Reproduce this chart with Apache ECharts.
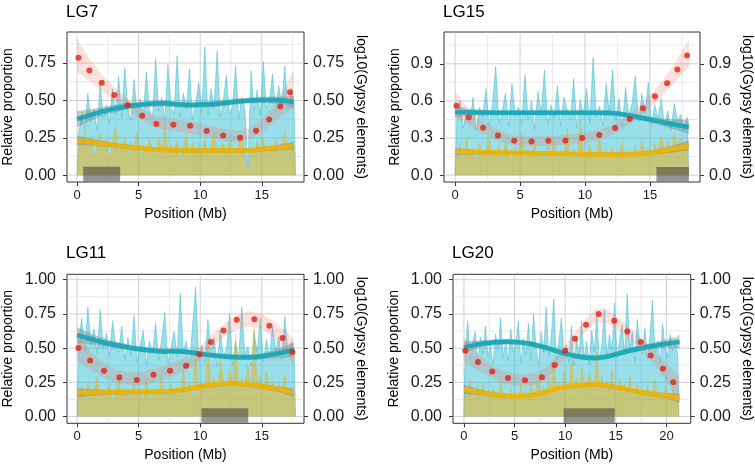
<!DOCTYPE html>
<html><head><meta charset="utf-8">
<script src="https://cdn.jsdelivr.net/npm/echarts@6/dist/echarts.min.js"></script>
<style>html,body{margin:0;padding:0;background:#fff}#c{width:755px;height:469px}</style>
</head><body><div id="c"></div>
<script>
const FONT = "'Liberation Sans', Arial, Helvetica, sans-serif";
const BIN = 0.25;

// ---------- LG7 ----------
const xTicks7 = [0, 5, 10, 15];
const yTicks7 = [0, 0.25, 0.5, 0.75];
const cyanBars7 = [0.28,0.42,0.31,0.55,0.36,0.44,0.30,0.62, 0.38,0.47,0.35,0.58,0.41,0.66,0.39,0.72,
  0.45,0.37,0.64,0.42,0.51,0.40,0.69,0.44, 0.38,0.78,0.43,0.52,0.36,0.74,0.46,0.41,
  0.80,0.39,0.55,0.44,0.71,0.37,0.48,0.62, 0.42,0.86,0.40,0.58,0.45,0.83,0.39,0.50,
  0.67,0.41,0.46,0.73,0.38,0.52,0.44,0.05, 0.70,0.43,0.57,0.40,0.76,0.45,0.50,0.68,
  0.42,0.60,0.47,0.73,0.44,0.58,0.48];
const goldBars7 = [0.22,0.18,0.30,0.15,0.26,0.12,0.20,0.28, 0.16,0.24,0.10,0.21,0.33,0.14,0.19,0.25,
  0.13,0.22,0.17,0.29,0.11,0.20,0.15,0.24, 0.18,0.12,0.26,0.16,0.35,0.14,0.21,0.17,
  0.23,0.10,0.19,0.28,0.15,0.22,0.12,0.20, 0.16,0.25,0.13,0.19,0.30,0.11,0.18,0.22,
  0.14,0.24,0.17,0.12,0.21,0.27,0.15,0.00, 0.19,0.13,0.23,0.16,0.26,0.12,0.20,0.18,
  0.24,0.15,0.21,0.29,0.17,0.22,0.19];
const fitX7 = [0,1,2,3,4,5,6,7,8,9,10,11,12,13,14,15,16,17,17.6];
const cyanFit7 = [0.375,0.40,0.425,0.445,0.46,0.47,0.478,0.481,0.475,0.47,0.472,0.475,0.483,0.493,0.50,0.503,0.503,0.497,0.49];
const cyanLo7 = [0.32,0.36,0.395,0.42,0.438,0.45,0.458,0.461,0.455,0.45,0.452,0.455,0.463,0.473,0.48,0.482,0.48,0.467,0.45];
const cyanHi7 = [0.43,0.44,0.455,0.47,0.482,0.49,0.498,0.501,0.495,0.49,0.492,0.495,0.503,0.513,0.52,0.524,0.526,0.527,0.53];
const goldFit7 = [0.232,0.222,0.211,0.2,0.19,0.181,0.174,0.169,0.166,0.165,0.165,0.165,0.165,0.165,0.167,0.173,0.181,0.19,0.196];
const goldLo7 = [0.20,0.198,0.192,0.183,0.174,0.166,0.159,0.154,0.151,0.15,0.15,0.15,0.15,0.15,0.152,0.157,0.164,0.168,0.168];
const goldHi7 = [0.264,0.246,0.23,0.217,0.206,0.196,0.189,0.184,0.181,0.18,0.18,0.18,0.18,0.18,0.182,0.189,0.198,0.212,0.224];
const pinkLo7 = [0.69,0.63,0.565,0.50,0.438,0.38,0.33,0.305,0.295,0.28,0.265,0.245,0.228,0.218,0.235,0.285,0.355,0.42,0.46];
const pinkHi7 = [0.91,0.78,0.675,0.59,0.518,0.46,0.41,0.385,0.375,0.36,0.345,0.325,0.308,0.298,0.315,0.375,0.465,0.60,0.70];
const ptX7 = [0.11,1.0,2.0,3.03,4.1,5.28,6.44,7.82,9.18,10.53,11.86,13.24,14.54,15.6,16.5,17.3];
const ptY7 = [0.786,0.70,0.618,0.537,0.47,0.398,0.343,0.338,0.33,0.296,0.265,0.25,0.297,0.372,0.46,0.555];
const cen7 = [0.5, 3.5, 0.056];

// ---------- LG15 ----------
const xTicks15 = [0, 5, 10, 15];
const yTicks15 = [0, 0.3, 0.6, 0.9];
const cyanBars15 = [0.45,0.60,0.38,0.52,0.41,0.63,0.36,0.55, 0.47,0.70,0.40,0.58,0.88,0.43,0.52,0.66,
  0.39,0.74,0.48,0.55,0.42,0.81,0.45,0.60, 0.37,0.68,0.50,0.85,0.41,0.57,0.46,0.72,
  0.40,0.63,0.53,0.44,0.78,0.38,0.61,0.49, 0.70,0.42,0.95,0.47,0.56,0.40,0.74,0.51,
  0.85,0.44,0.62,0.39,0.71,0.48,0.58,0.80, 0.43,0.66,0.50,0.75,0.41,0.57,0.46,0.62,
  0.40,0.52,0.37,0.58,0.44,0.49,0.36,0.47];
const goldBars15 = [0.18,0.25,0.12,0.30,0.16,0.22,0.10,0.27, 0.14,0.20,0.32,0.13,0.19,0.24,0.11,0.28,
  0.17,0.12,0.23,0.15,0.34,0.10,0.21,0.16, 0.26,0.13,0.19,0.11,0.24,0.17,0.29,0.12,
  0.20,0.15,0.38,0.13,0.22,0.10,0.45,0.16, 0.14,0.25,0.12,0.19,0.31,0.11,0.21,0.15,
  0.23,0.13,0.18,0.27,0.12,0.20,0.16,0.24, 0.14,0.29,0.17,0.22,0.12,0.26,0.19,0.33,
  0.21,0.28,0.18,0.35,0.24,0.30,0.22,0.27];
const fitX15 = [0,1,2,3,4,5,6,7,8,9,10,11,12,13,14,15,16,17,18];
const cyanFit15 = [0.51,0.508,0.506,0.505,0.505,0.505,0.505,0.505,0.505,0.505,0.505,0.505,0.502,0.49,0.47,0.45,0.428,0.408,0.39];
const cyanLo15 = [0.465,0.478,0.484,0.485,0.485,0.485,0.485,0.485,0.485,0.485,0.485,0.485,0.482,0.47,0.448,0.425,0.398,0.368,0.33];
const cyanHi15 = [0.555,0.538,0.528,0.525,0.525,0.525,0.525,0.525,0.525,0.525,0.525,0.525,0.522,0.51,0.492,0.475,0.458,0.448,0.45];
const goldFit15 = [0.19,0.188,0.186,0.184,0.182,0.18,0.178,0.176,0.174,0.172,0.17,0.168,0.167,0.168,0.172,0.18,0.195,0.215,0.24];
const goldLo15 = [0.16,0.166,0.168,0.168,0.167,0.165,0.163,0.161,0.159,0.157,0.155,0.153,0.152,0.153,0.156,0.162,0.173,0.185,0.2];
const goldHi15 = [0.22,0.21,0.204,0.2,0.197,0.195,0.193,0.191,0.189,0.187,0.185,0.183,0.182,0.183,0.188,0.198,0.217,0.245,0.28];
const pinkLo15 = [0.47,0.405,0.345,0.29,0.255,0.235,0.232,0.235,0.24,0.248,0.263,0.285,0.322,0.38,0.455,0.545,0.645,0.76,0.875];
const pinkHi15 = [0.67,0.545,0.445,0.38,0.335,0.315,0.312,0.315,0.32,0.328,0.343,0.365,0.402,0.46,0.545,0.645,0.765,0.92,1.095];
const ptX15 = [0.1,1.05,2.15,3.3,4.55,5.88,7.18,8.49,9.79,11.1,12.32,13.45,14.47,15.39,16.33,17.12,17.87];
const ptY15 = [0.562,0.467,0.384,0.321,0.278,0.272,0.278,0.281,0.30,0.324,0.381,0.454,0.54,0.637,0.743,0.854,0.968];
const cen15 = [15.5, 18.0, 0.067];

// ---------- LG11 ----------
const xTicks11 = [0, 5, 10, 15];
const yTicks11 = [0, 0.25, 0.5, 0.75, 1];
const cyanBars11 = [0.55,0.72,0.48,0.80,0.52,0.64,0.46,0.78, 0.50,0.61,0.44,0.70,0.53,0.47,0.66,0.42,
  0.58,0.45,0.74,0.40,0.52,0.63,0.38,0.55, 0.47,0.68,0.41,0.57,0.76,0.39,0.50,0.62,
  0.44,0.90,0.48,0.55,0.37,0.66,0.95,0.42, 0.52,0.40,0.71,0.46,0.58,0.36,0.63,0.44,
  0.49,0.75,0.38,0.55,0.42,0.80,0.45,0.51, 0.37,0.62,0.47,0.72,0.40,0.56,0.44,0.66,
  0.48,0.58,0.41,0.73,0.46,0.54,0.50];
const goldBars11 = [0.15,0.22,0.11,0.26,0.14,0.19,0.30,0.12, 0.20,0.16,0.24,0.10,0.18,0.28,0.13,0.21,
  0.17,0.12,0.25,0.15,0.20,0.11,0.27,0.16, 0.13,0.22,0.18,0.30,0.12,0.19,0.24,0.15,
  0.21,0.14,0.35,0.17,0.26,0.12,0.48,0.20, 0.25,0.18,0.55,0.22,0.30,0.16,0.42,0.27,
  0.20,0.34,0.24,0.60,0.19,0.28,0.23,0.38, 0.18,0.66,0.22,0.29,0.17,0.33,0.21,0.26,
  0.15,0.24,0.19,0.31,0.14,0.22,0.17];
const fitX11 = [0,1,2,3,4,5,6,7,8,9,10,11,12,13,14,15,16,17,17.6];
const cyanFit11 = [0.595,0.57,0.545,0.525,0.508,0.493,0.482,0.476,0.478,0.472,0.458,0.447,0.438,0.433,0.433,0.44,0.455,0.475,0.49];
const cyanLo11 = [0.535,0.53,0.515,0.5,0.486,0.473,0.462,0.456,0.458,0.452,0.438,0.427,0.418,0.413,0.413,0.418,0.425,0.43,0.435];
const cyanHi11 = [0.655,0.61,0.575,0.55,0.53,0.513,0.502,0.496,0.498,0.492,0.478,0.467,0.458,0.453,0.453,0.462,0.485,0.52,0.545];
const goldFit11 = [0.175,0.176,0.177,0.178,0.179,0.18,0.18,0.181,0.188,0.202,0.218,0.232,0.24,0.24,0.233,0.222,0.206,0.188,0.175];
const goldLo11 = [0.14,0.15,0.156,0.16,0.162,0.164,0.164,0.165,0.172,0.186,0.202,0.216,0.224,0.224,0.216,0.204,0.186,0.163,0.145];
const goldHi11 = [0.21,0.202,0.198,0.196,0.196,0.196,0.196,0.197,0.204,0.218,0.234,0.248,0.256,0.256,0.25,0.24,0.226,0.213,0.205];
const pinkLo11 = [0.405,0.345,0.29,0.25,0.23,0.225,0.245,0.27,0.30,0.34,0.41,0.505,0.585,0.635,0.66,0.64,0.575,0.46,0.37];
const pinkHi11 = [0.605,0.485,0.40,0.35,0.33,0.325,0.345,0.37,0.40,0.44,0.51,0.605,0.685,0.745,0.77,0.75,0.695,0.62,0.57];
const ptX11 = [0.11,1.06,2.19,3.44,4.85,6.2,7.55,8.85,9.94,10.86,11.89,12.97,14.4,15.62,16.68,17.49];
const ptY11 = [0.50,0.41,0.334,0.285,0.268,0.305,0.334,0.371,0.456,0.544,0.629,0.707,0.71,0.663,0.573,0.471];
const cen11 = [10.1, 13.9, 0.061];

// ---------- LG20 ----------
const xTicks20 = [0, 5, 10, 15, 20];
const yTicks20 = [0, 0.25, 0.5, 0.75, 1];
const cyanBars20 = [0.48,0.70,0.42,0.55,0.62,0.40,0.58,0.46, 0.66,0.44,0.52,0.38,0.60,0.49,0.72,0.43,
  0.55,0.41,0.64,0.47,0.53,0.70,0.39,0.57, 0.45,0.68,0.42,0.75,0.50,0.38,0.62,0.47,
  0.80,0.44,0.58,0.86,0.41,0.55,0.72,0.46, 0.52,0.40,0.66,0.37,0.58,0.45,0.70,0.42,
  0.55,0.38,0.63,0.47,0.74,0.41,0.52,0.78, 0.44,0.60,0.48,0.83,0.43,0.56,0.67,0.45,
  0.90,0.49,0.62,0.40,0.71,0.53,0.46,0.65, 0.42,0.58,0.85,0.47,0.55,0.39,0.68,0.50,
  0.44,0.60,0.48,0.56,0.45];
const goldBars20 = [0.20,0.14,0.27,0.12,0.18,0.23,0.10,0.25, 0.15,0.19,0.11,0.22,0.13,0.17,0.28,0.12,
  0.16,0.10,0.21,0.14,0.18,0.11,0.24,0.13, 0.19,0.12,0.26,0.15,0.20,0.31,0.14,0.22,
  0.17,0.28,0.19,0.42,0.21,0.25,0.16,0.33, 0.24,0.18,0.45,0.22,0.29,0.17,0.38,0.25,
  0.20,0.32,0.23,0.27,0.48,0.21,0.30,0.19, 0.26,0.18,0.35,0.22,0.16,0.28,0.20,0.24,
  0.15,0.30,0.19,0.13,0.25,0.17,0.21,0.12, 0.23,0.16,0.19,0.27,0.14,0.18,0.11,0.22,
  0.16,0.13,0.20,0.15,0.12];
const fitX20 = [0,1,2,3,4,5,6,7,8,9,10,11,12,13,14,15,16,17,18,19,20,21,21.3];
const cyanFit20 = [0.505,0.522,0.535,0.542,0.546,0.545,0.538,0.525,0.505,0.482,0.46,0.443,0.432,0.428,0.436,0.455,0.475,0.492,0.508,0.52,0.532,0.542,0.545];
const cyanLo20 = [0.46,0.492,0.51,0.52,0.526,0.525,0.518,0.505,0.485,0.462,0.44,0.423,0.412,0.408,0.416,0.435,0.455,0.472,0.486,0.495,0.502,0.502,0.49];
const cyanHi20 = [0.55,0.552,0.56,0.564,0.566,0.565,0.558,0.545,0.525,0.502,0.48,0.463,0.452,0.448,0.456,0.475,0.495,0.512,0.53,0.545,0.562,0.582,0.60];
const goldFit20 = [0.2,0.185,0.17,0.16,0.152,0.148,0.15,0.16,0.178,0.2,0.215,0.225,0.232,0.234,0.228,0.215,0.2,0.185,0.172,0.16,0.15,0.138,0.135];
const goldLo20 = [0.165,0.16,0.15,0.142,0.136,0.133,0.135,0.145,0.163,0.185,0.2,0.21,0.217,0.219,0.213,0.2,0.185,0.17,0.157,0.142,0.128,0.108,0.1];
const goldHi20 = [0.235,0.21,0.19,0.178,0.168,0.163,0.165,0.175,0.193,0.215,0.23,0.24,0.247,0.249,0.243,0.23,0.215,0.2,0.187,0.178,0.172,0.168,0.17];
const pinkLo20 = [0.40,0.355,0.315,0.273,0.243,0.225,0.22,0.23,0.265,0.335,0.43,0.525,0.62,0.685,0.685,0.645,0.585,0.525,0.45,0.36,0.26,0.14,0.105];
const pinkHi20 = [0.58,0.485,0.415,0.363,0.333,0.315,0.31,0.32,0.355,0.425,0.52,0.615,0.71,0.785,0.785,0.735,0.675,0.615,0.54,0.46,0.38,0.32,0.305];
const ptX20 = [0.13,1.38,2.8,4.35,6.03,7.71,8.96,10.01,10.97,12.06,13.31,14.85,16.14,17.46,18.45,19.66,20.68];
const ptY20 = [0.481,0.398,0.329,0.281,0.266,0.288,0.376,0.481,0.568,0.671,0.749,0.70,0.622,0.544,0.446,0.349,0.251];
const cen20 = [9.85, 14.9, 0.061];

// ---------- assemble ----------
const panels = [
  {title:'LG7',  xMin:-0.82, xMax:18.43, yMin:-0.046, yMax:0.958, yDec:2, xTicks:xTicks7, yTicks:yTicks7,
   cyanBars:cyanBars7, goldBars:goldBars7, fitX:fitX7, cyanFit:cyanFit7, cyanLo:cyanLo7, cyanHi:cyanHi7,
   goldFit:goldFit7, goldLo:goldLo7, goldHi:goldHi7, pinkLo:pinkLo7, pinkHi:pinkHi7, ptX:ptX7, ptY:ptY7, cen:cen7},
  {title:'LG15', xMin:-0.86, xMax:18.86, yMin:-0.055, yMax:1.157, yDec:1, xTicks:xTicks15, yTicks:yTicks15,
   cyanBars:cyanBars15, goldBars:goldBars15, fitX:fitX15, cyanFit:cyanFit15, cyanLo:cyanLo15, cyanHi:cyanHi15,
   goldFit:goldFit15, goldLo:goldLo15, goldHi:goldHi15, pinkLo:pinkLo15, pinkHi:pinkHi15, ptX:ptX15, ptY:ptY15, cen:cen15},
  {title:'LG11', xMin:-0.82, xMax:18.43, yMin:-0.049, yMax:1.039, yDec:2, xTicks:xTicks11, yTicks:yTicks11,
   cyanBars:cyanBars11, goldBars:goldBars11, fitX:fitX11, cyanFit:cyanFit11, cyanLo:cyanLo11, cyanHi:cyanHi11,
   goldFit:goldFit11, goldLo:goldLo11, goldHi:goldHi11, pinkLo:pinkLo11, pinkHi:pinkHi11, ptX:ptX11, ptY:ptY11, cen:cen11},
  {title:'LG20', xMin:-1.08, xMax:22.4, yMin:-0.049, yMax:1.039, yDec:2, xTicks:xTicks20, yTicks:yTicks20,
   cyanBars:cyanBars20, goldBars:goldBars20, fitX:fitX20, cyanFit:cyanFit20, cyanLo:cyanLo20, cyanHi:cyanHi20,
   goldFit:goldFit20, goldLo:goldLo20, goldHi:goldHi20, pinkLo:pinkLo20, pinkHi:pinkHi20, ptX:ptX20, ptY:ptY20, cen:cen20}
];

const layout = [
  {left:67,  top:32,    width:237,   height:150, titleTop:4,   gapL:52, gapR:50},
  {left:444, top:32,    width:257,   height:150, titleTop:4,   gapL:42, gapR:40},
  {left:67,  top:274.3, width:237,   height:149, titleTop:245, gapL:52, gapR:50},
  {left:453, top:274.3, width:237.7, height:149, titleTop:245, gapL:52, gapR:49}
];

const COL = {
  cyanFill:'rgba(40,188,208,0.48)', cyanEdge:'rgba(25,172,196,0.55)',
  goldFill:'rgba(236,178,32,0.55)', goldEdge:'rgba(215,170,30,0.45)',
  cyanLine:'#1CA9B9', goldLine:'#EAB40A', grayRib:'rgba(135,135,135,0.45)',
  pinkRib:'rgba(240,125,110,0.24)', point:'#E5200F', cen:'rgba(70,70,70,0.58)',
  major:'#d0d0d0', minor:'#e4e4e4', border:'#333', text:'#1a1a1a'
};

function minors(ticks, lo, hi) {
  const step = ticks[1] - ticks[0], out = [];
  for (let v = ticks[0] - step / 2; v < hi; v += step) if (v > lo) out.push(+v.toFixed(4));
  return out;
}

function ribbon(xs, lo, hi, color) {
  return function (params, api) {
    const pts = [];
    for (let k = 0; k < xs.length; k++) pts.push(api.coord([xs[k], hi[k]]));
    for (let k = xs.length - 1; k >= 0; k--) pts.push(api.coord([xs[k], lo[k]]));
    return {type:'polygon', shape:{points:pts}, style:{fill:color}, silent:true};
  };
}

// spiky density trace: value at each bin centre, closed down to 0 at both ends
function histData(vals) {
  const d = [[0, 0]];
  vals.forEach((v, k) => d.push([(k + 0.5) * BIN, v]));
  d.push([vals.length * BIN, 0]);
  return d;
}

const option = {animation:false, backgroundColor:'#fff', title:[], grid:[], xAxis:[], yAxis:[], series:[]};

panels.forEach((p, i) => {
  const L = layout[i];
  const txt = (size) => ({fontFamily:FONT, fontSize:size, color:COL.text});
  option.title.push({text:p.title, left:L.left - 1, top:L.titleTop, padding:0,
    textStyle:{fontFamily:FONT, fontSize:17, fontWeight:'normal', color:'#000'}});
  option.grid.push({left:L.left, top:L.top, width:L.width, height:L.height, show:true,
    borderColor:COL.border, borderWidth:1, backgroundColor:'transparent', containLabel:false});
  option.xAxis.push({type:'value', gridIndex:i, min:p.xMin, max:p.xMax,
    name:'Position (Mb)', nameLocation:'middle', nameGap:25, nameTextStyle:{fontFamily:FONT, fontSize:14, color:'#000'},
    axisLine:{show:false, onZero:false},
    axisTick:{show:true, length:4, customValues:p.xTicks, lineStyle:{color:'#333'}},
    axisLabel:{customValues:p.xTicks, margin:7, ...txt(13)},
    splitLine:{show:false}});
  const yBase = {type:'value', gridIndex:i, min:p.yMin, max:p.yMax,
    nameLocation:'middle', nameTextStyle:{fontFamily:FONT, fontSize:14, color:'#000'},
    axisLine:{show:false, onZero:false},
    axisTick:{show:true, length:4, customValues:p.yTicks, lineStyle:{color:'#333'}},
    splitLine:{show:false}};
  const yLab = (m) => ({customValues:p.yTicks, margin:m, formatter:(v) => Number(v).toFixed(p.yDec), ...txt(16)});
  option.yAxis.push(Object.assign({}, yBase, {position:'left', name:'Relative proportion', nameGap:L.gapL, axisLabel:yLab(11)}));
  option.yAxis.push(Object.assign({}, yBase, {position:'right', name:'log10(Gypsy elements)', nameGap:L.gapR, nameRotate:-90, axisLabel:yLab(9)}));

  const xi = i, yi = i * 2;
  // grid lines
  const gl = [];
  p.xTicks.forEach(v => gl.push([v, p.yTicks[0], 0]));
  minors(p.xTicks, p.xMin, p.xMax).forEach(v => gl.push([v, p.yTicks[0], 1]));
  p.yTicks.forEach(v => gl.push([p.xTicks[0], v, 2]));
  minors(p.yTicks, p.yMin, p.yMax).forEach(v => gl.push([p.xTicks[0], v, 3]));
  option.series.push({type:'custom', xAxisIndex:xi, yAxisIndex:yi, z:1, silent:true, data:gl,
    encode:{x:0, y:1},
    renderItem:function (params, api) {
      const kind = api.value(2);
      const c = api.coord([api.value(0), api.value(1)]);
      const cs = params.coordSys;
      const shape = kind < 2 ? {x1:c[0], y1:cs.y + 0.5, x2:c[0], y2:cs.y + cs.height - 0.5}
                             : {x1:cs.x + 0.5, y1:c[1], x2:cs.x + cs.width - 0.5, y2:c[1]};
      return {type:'line', shape:shape, style:{stroke: kind % 2 === 0 ? COL.major : COL.minor,
        lineWidth: kind % 2 === 0 ? 1 : 0.8}};
    }});
  // densities (filled spiky traces)
  option.series.push({type:'line', xAxisIndex:xi, yAxisIndex:yi, z:2, showSymbol:false, silent:true,
    lineStyle:{color:COL.cyanEdge, width:0.7}, areaStyle:{color:COL.cyanFill, opacity:1}, data:histData(p.cyanBars)});
  option.series.push({type:'line', xAxisIndex:xi, yAxisIndex:yi, z:3, showSymbol:false, silent:true,
    lineStyle:{color:COL.goldEdge, width:0.5}, areaStyle:{color:COL.goldFill, opacity:1}, data:histData(p.goldBars)});
  // centromere block
  option.series.push({type:'custom', xAxisIndex:xi, yAxisIndex:yi, z:4, silent:true,
    data:[[p.cen[0], p.cen[2], p.cen[1]]], encode:{x:[0, 2], y:1},
    renderItem:function (params, api) {
      const a = api.coord([api.value(0), api.value(1)]);
      const b = api.coord([api.value(2), p.yMin]);
      return {type:'rect', shape:{x:a[0], y:a[1], width:b[0] - a[0], height:b[1] - a[1] - 0.5}, style:{fill:COL.cen}};
    }});
  // ribbons
  option.series.push({type:'custom', xAxisIndex:xi, yAxisIndex:yi, z:5, data:[[p.fitX[0], p.cyanFit[0]]],
    renderItem:ribbon(p.fitX, p.cyanLo, p.cyanHi, COL.grayRib)});
  option.series.push({type:'custom', xAxisIndex:xi, yAxisIndex:yi, z:5, data:[[p.fitX[0], p.goldFit[0]]],
    renderItem:ribbon(p.fitX, p.goldLo, p.goldHi, COL.grayRib)});
  option.series.push({type:'custom', xAxisIndex:xi, yAxisIndex:yi, z:5, data:[[p.fitX[0], p.pinkLo[0]]],
    renderItem:ribbon(p.fitX, p.pinkLo, p.pinkHi, COL.pinkRib)});
  // smooth lines
  option.series.push({type:'line', xAxisIndex:xi, yAxisIndex:yi, z:6, smooth:0.4, showSymbol:false, silent:true,
    lineStyle:{color:COL.goldLine, width:4.5}, data:p.fitX.map((x, k) => [x, p.goldFit[k]])});
  option.series.push({type:'line', xAxisIndex:xi, yAxisIndex:yi, z:6, smooth:0.4, showSymbol:false, silent:true,
    lineStyle:{color:COL.cyanLine, width:4.5}, data:p.fitX.map((x, k) => [x, p.cyanFit[k]])});
  // points
  option.series.push({type:'scatter', xAxisIndex:xi, yAxisIndex:yi, z:7, symbol:'circle', symbolSize:6, silent:true,
    itemStyle:{color:COL.point}, data:p.ptX.map((x, k) => [x, p.ptY[k]])});
});

const chart = echarts.init(document.getElementById('c'), null, {renderer:'canvas'});
chart.setOption(option);
</script>
</body></html>
